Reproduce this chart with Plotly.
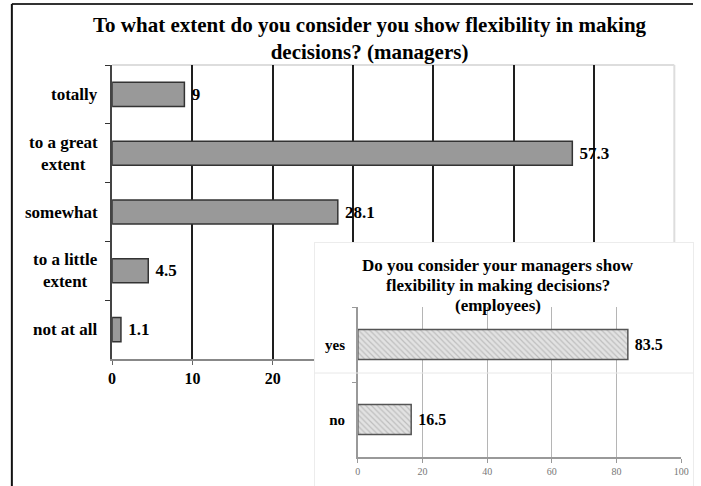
import plotly.graph_objects as go

# ---------------- data ----------------
main_categories = ["totally", "to a great extent", "somewhat", "to a little extent", "not at all"]
main_labels = ["totally", "to a great<br>extent", "somewhat", "to a little<br>extent", "not at all"]
main_values = [9, 57.3, 28.1, 4.5, 1.1]

inset_categories = ["yes", "no"]
inset_values = [83.5, 16.5]

main_title = "To what extent do you consider you show flexibility in making<br>decisions? (managers)"
inset_title_lines = ["Do you consider your managers show",
                     "flexibility in making decisions?",
                     "(employees)"]

W, H = 701, 486
SERIF = "Liberation Serif"


def px(x):
    return x / W


def py(y):
    return 1 - y / H


fig = go.Figure()

# main chart bars
fig.add_trace(go.Bar(
    x=main_values, y=main_categories, orientation="h",
    marker=dict(color="#999999", line=dict(color="#333333", width=1.5)),
    texttemplate=" %{x}", textposition="outside",
    textfont=dict(family=SERIF, size=17, color="black", weight=700),
    cliponaxis=False, width=0.41,
    xaxis="x", yaxis="y", showlegend=False, hoverinfo="skip",
))

# white panel that the inset sits on (covers the lower-right of main chart)
fig.add_trace(go.Scatter(
    x=[0.5], y=[0.5], mode="markers", marker=dict(opacity=0),
    xaxis="x2", yaxis="y2", showlegend=False, hoverinfo="skip",
))

# inset bars
fig.add_trace(go.Bar(
    x=inset_values, y=inset_categories, orientation="h",
    marker=dict(color="#e2e2e2",
                line=dict(color="#555555", width=1.5),
                pattern=dict(shape="\\", fgcolor="#9a9a9a", size=4, solidity=0.3)),
    texttemplate=" %{x}", textposition="outside",
    textfont=dict(family=SERIF, size=16, color="black", weight=700),
    cliponaxis=False, width=0.4,
    xaxis="x3", yaxis="y3", showlegend=False, hoverinfo="skip",
))

annotations = []
# main title
annotations.append(dict(
    text="<b>" + main_title + "</b>", xref="paper", yref="paper",
    x=px(372), y=py(38.5), xanchor="center", yanchor="middle", showarrow=False,
    font=dict(family=SERIF, size=21, color="black"), align="center",
))
# main category labels (centered multi-line)
for cat, lab in zip(main_categories, main_labels):
    annotations.append(dict(
        text="<b>" + lab + "</b>", xref="paper", yref="y",
        x=px(110), y=cat, xanchor="right", yanchor="middle", xshift=-12,
        showarrow=False, align="center",
        font=dict(family=SERIF, size=17, color="black"),
    ))
# inset title, one line at a time (tight line spacing)
for i, line in enumerate(inset_title_lines):
    annotations.append(dict(
        text="<b>" + line + "</b>", xref="paper", yref="paper",
        x=px(503), y=py(265 + 20 * i), xanchor="center", yanchor="middle", showarrow=False,
        font=dict(family=SERIF, size=17, color="black"), align="center",
    ))

shapes = [
    # outer frame (top and left)
    dict(type="line", xref="paper", yref="paper", x0=px(8), x1=1, y0=py(4), y1=py(4),
         line=dict(color="#333333", width=2), layer="below"),
    dict(type="line", xref="paper", yref="paper", x0=px(8), x1=px(8), y0=py(4), y1=0,
         line=dict(color="#111111", width=2), layer="below"),
    # light plot-area border (top + right) of main chart
    dict(type="line", xref="x domain", yref="y domain", x0=0, x1=1, y0=1, y1=1,
         line=dict(color="#dddddd", width=2), layer="below"),
    dict(type="line", xref="x domain", yref="y domain", x0=1, x1=1, y0=0, y1=1,
         line=dict(color="#dddddd", width=2), layer="below"),
    # faint paste seam line across the inset
    dict(type="line", xref="paper", yref="paper", x0=px(316), x1=1, y0=py(373), y1=py(373),
         line=dict(color="#e8e8e8", width=1), layer="above"),
]

fig.update_layout(
    width=W, height=H,
    margin=dict(l=0, r=0, t=0, b=0),
    paper_bgcolor="white", plot_bgcolor="white",
    font=dict(family=SERIF, color="black"),
    annotations=annotations, shapes=shapes,
    bargap=0.6,
    xaxis=dict(
        domain=[px(110), px(682)], range=[0, 70], dtick=10, anchor="y",
        showgrid=True, gridcolor="#1e1e1e", gridwidth=1.5,
        showline=True, linecolor="#888888", linewidth=1.5,
        ticks="outside", ticklen=4, tickcolor="#666666",
        tickfont=dict(family=SERIF, size=16, color="black", weight=700),
        zeroline=False, fixedrange=True,
    ),
    yaxis=dict(
        domain=[py(359), py(65)], anchor="x",
        type="category", categoryorder="array", categoryarray=main_categories,
        autorange="reversed",
        showline=True, linecolor="#444444", linewidth=2,
        ticks="outside", tickson="boundaries", ticklen=5, tickcolor="#333333",
        showticklabels=False, showgrid=False, zeroline=False, fixedrange=True,
    ),
    xaxis2=dict(
        domain=[px(316), 1], range=[0, 1], anchor="y2",
        showgrid=False, zeroline=False, showticklabels=False, ticks="",
        showline=True, mirror=True, linecolor="#ececec", linewidth=1, fixedrange=True,
    ),
    yaxis2=dict(
        domain=[0, py(243)], range=[0, 1], anchor="x2",
        showgrid=False, zeroline=False, showticklabels=False, ticks="",
        showline=True, mirror=True, linecolor="#ececec", linewidth=1, fixedrange=True,
    ),
    xaxis3=dict(
        domain=[px(360), px(689)], range=[0, 100], dtick=20, anchor="y3",
        showgrid=True, gridcolor="#b5b5b5", gridwidth=1,
        showline=True, linecolor="#999999", linewidth=1.5,
        ticks="outside", ticklen=4, tickcolor="#999999",
        tickfont=dict(family=SERIF, size=10, color="#777777"),
        zeroline=False, fixedrange=True,
    ),
    yaxis3=dict(
        domain=[py(457), py(307)], anchor="x3",
        type="category", categoryorder="array", categoryarray=inset_categories,
        autorange="reversed",
        showline=True, linecolor="#999999", linewidth=1.5,
        ticks="outside", tickson="boundaries", ticklen=4, tickcolor="#999999",
        tickfont=dict(family=SERIF, size=15, color="black", weight=700),
        ticklabelstandoff=8,
        showgrid=False, zeroline=False, fixedrange=True,
    ),
)

fig.write_html("out.html",
               config={"displayModeBar": False},
               post_script="document.body.style.margin='0';document.body.style.overflow='hidden';")
